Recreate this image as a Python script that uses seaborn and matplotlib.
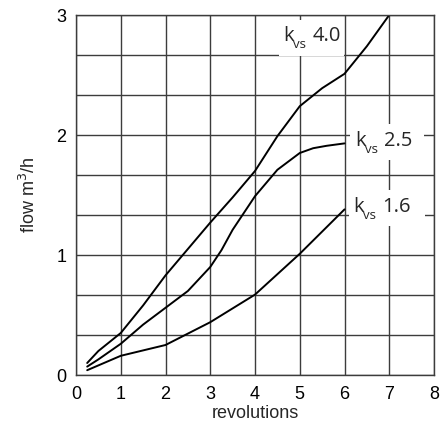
import numpy as np
import pandas as pd
import matplotlib
matplotlib.use("Agg")
import matplotlib.pyplot as plt
from matplotlib.patches import Rectangle
import seaborn as sns

# curve data (revolutions -> flow m3/h)
rev_40 = [0.25, 0.5, 1.0, 1.5, 2.0, 2.5, 3.0, 3.5, 4.0, 4.5, 5.0, 5.5, 6.0, 6.5, 7.0]
flow_40 = [0.10, 0.20, 0.35, 0.58, 0.83, 1.05, 1.27, 1.48, 1.70, 1.99, 2.24, 2.39, 2.51, 2.74, 3.00]

rev_25 = [0.25, 0.5, 1.0, 1.5, 2.0, 2.5, 3.0, 3.25, 3.5, 4.0, 4.5, 5.0, 5.3, 5.6, 6.0]
flow_25 = [0.07, 0.13, 0.26, 0.42, 0.56, 0.70, 0.90, 1.04, 1.21, 1.49, 1.71, 1.85, 1.89, 1.91, 1.93]

rev_16 = [0.25, 1.0, 2.0, 3.0, 4.0, 5.0, 6.0]
flow_16 = [0.04, 0.16, 0.25, 0.44, 0.67, 1.01, 1.38]

curve_names = ["4.0", "2.5", "1.6"]
# where each "k_vs" label sits (left edge / baseline of the k) and how wide its white box is
label_x = [4.63, 6.23, 6.19]
label_y = [2.78, 1.91, 1.36]
box_w = [1.45, 1.65, 1.70]

x_ticks = list(range(0, 9))
y_ticks = [0, 1, 2, 3]

df = pd.concat([
    pd.DataFrame({"rev": rev_40, "flow": flow_40, "kvs": "4.0"}),
    pd.DataFrame({"rev": rev_25, "flow": flow_25, "kvs": "2.5"}),
    pd.DataFrame({"rev": rev_16, "flow": flow_16, "kvs": "1.6"}),
])

sns.set_style("white")
plt.rcParams["font.family"] = ["Liberation Sans", "DejaVu Sans"]

fig = plt.figure(figsize=(4.41, 4.30), dpi=100)
ax = fig.add_axes([76 / 441, 55 / 430, 358 / 441, 360 / 430])

# grid: every revolution, every 1/3 m3/h
for xv in x_ticks:
    ax.axvline(xv, color="#3c3c3c", lw=1.0, zorder=1)
for yv in np.arange(0, 3.01, 1 / 3):
    ax.axhline(yv, color="#3c3c3c", lw=1.0, zorder=1)

sns.lineplot(data=df, x="rev", y="flow", hue="kvs", palette=["black"] * 3,
             sort=False, estimator=None, lw=1.4, legend=False, ax=ax, zorder=3)

lab_font = "Open Sans"
for name, x, y, w in zip(curve_names, label_x, label_y, box_w):
    ax.add_patch(Rectangle((x - 0.1, y - 0.12), w, 0.30, fc="white", ec="none",
                           zorder=4, clip_on=True))
    ax.text(x, y, "k", fontsize=14.5, family=lab_font, va="baseline", zorder=5)
    ax.annotate("vs", (x, y), xytext=(7.0, -5.0), textcoords="offset points",
                fontsize=9.5, family=lab_font, va="baseline", zorder=5)
    ax.annotate(name, (x, y), xytext=(21.3, 0), textcoords="offset points",
                fontsize=14.5, family=lab_font, va="baseline", zorder=5)

ax.set_xlim(0, 8)
ax.set_ylim(0, 3)
ax.set_xticks(x_ticks)
ax.set_yticks(y_ticks)
ax.tick_params(axis="both", labelsize=13, colors="#3c3c3c", labelcolor="black",
               direction="out", width=1.0)
ax.tick_params(axis="y", length=5, pad=2)
ax.tick_params(axis="x", length=3, pad=5)
for s in ax.spines.values():
    s.set_color("#3c3c3c")
    s.set_linewidth(1.0)
    s.set_zorder(6)

ax.set_xlabel("revolutions", fontsize=13, labelpad=1)
ax.set_ylabel(r"flow m$^3$/h", fontsize=13, labelpad=12)

fig.savefig("out.png", dpi=100)
